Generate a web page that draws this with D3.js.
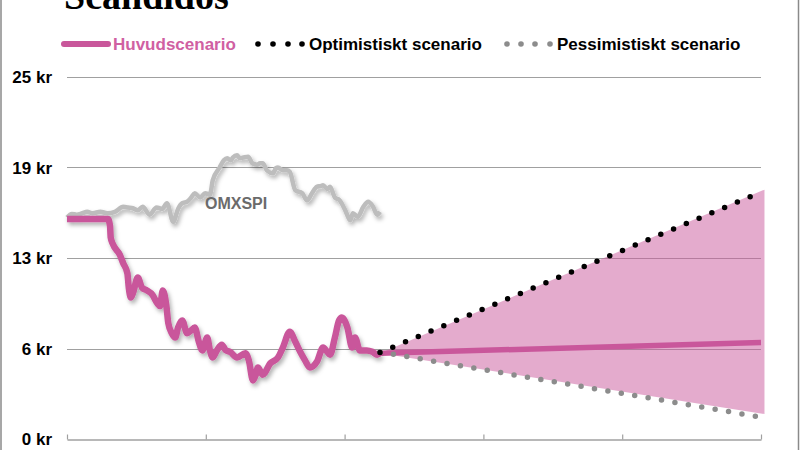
<!DOCTYPE html>
<meta charset="utf-8">
<head>
    <title>Scandidos</title>
    <script src="https://d3js.org/d3.v7.min.js"></script>
    <style>
        body { margin: 0; background: #fff; }
        text { font-family: "Liberation Sans", Arial, sans-serif; font-weight: bold; }
    </style>
</head>
<body>
<svg id="chart" width="800" height="450"></svg>
<script>
// axes
var yTicks = [0, 6.333, 12.667, 19, 25.333]
var yTickLabels = ["0 kr", "6 kr", "13 kr", "19 kr", "25 kr"]
var xTicks = [0, 20, 40, 60, 80, 100]

// Scandidos, historik
var histX = [0, 5.9, 6.2, 6.3, 6.6, 7.6, 8.1, 8.7, 8.9, 9.2, 9.5, 10.2, 10.8, 11.5, 12.3, 13.0, 13.4, 13.8, 14.3, 14.6, 15.1, 15.6, 16.0, 16.6, 17.3, 17.9, 18.4, 19.0, 19.5, 20.2, 20.6, 21.0, 21.6, 22.3, 22.9, 23.5, 24.5, 25.7, 26.2, 26.8, 27.2, 27.5, 28.2, 29.3, 30.4, 31.1, 32.1, 32.9, 33.6, 34.3, 35.0, 36.0, 36.9, 37.5, 37.9, 38.6, 39.2, 39.6, 40.1, 40.4, 41.1, 41.5, 42.2, 43.2, 44.0, 44.7, 45.1]
var histY = [15.4, 15.4, 14.9, 14.1, 13.65, 12.9, 12.3, 11.6, 10.6, 9.9, 10.2, 11.3, 10.6, 10.4, 10.1, 9.5, 9.3, 10.4, 9.4, 8.1, 7.4, 7.1, 7.8, 8.3, 7.4, 7.6, 7.8, 6.8, 6.2, 7.1, 6.2, 5.7, 6.2, 6.6, 6.2, 6.1, 5.7, 6.0, 5.5, 4.1, 4.5, 5.0, 4.5, 5.3, 5.7, 6.4, 7.5, 6.8, 6.1, 5.5, 5.0, 5.4, 6.4, 6.1, 5.9, 7.1, 8.3, 8.5, 8.2, 7.8, 6.4, 7.1, 6.2, 6.2, 6.1, 5.9, 6.0]

// OMXSPI
var omxX = [0, 0.7, 1.4, 2.2, 2.9, 3.7, 4.8, 5.8, 6.9, 8.1, 8.8, 9.5, 10.2, 10.9, 11.9, 12.9, 13.7, 14.4, 15.3, 16.0, 16.6, 17.3, 17.9, 18.4, 19.2, 19.9, 20.6, 21.0, 22.0, 22.6, 23.1, 23.6, 23.9, 24.5, 24.9, 25.4, 26.1, 26.7, 27.4, 27.8, 28.2, 28.8, 29.7, 30.1, 30.4, 31.1, 31.7, 32.1, 32.9, 33.9, 34.6, 35.3, 36.0, 36.5, 36.9, 37.5, 37.9, 38.6, 39.3, 40.1, 40.8, 41.2, 41.9, 42.7, 43.4, 44.1, 44.7, 45.1]
var omxY = [15.5, 15.75, 15.7, 15.8, 15.9, 15.8, 15.9, 15.8, 15.9, 16.25, 16.2, 16.15, 16.0, 16.25, 15.7, 16.2, 16.1, 16.5, 15.2, 16.1, 16.5, 16.6, 16.9, 17.2, 16.9, 17.2, 17.1, 18.1, 19.0, 19.5, 19.65, 19.5, 19.7, 19.85, 19.65, 19.7, 19.75, 19.3, 19.2, 19.3, 19.3, 18.8, 18.6, 18.95, 19.0, 18.8, 18.8, 18.7, 17.4, 17.2, 16.7, 17.2, 17.65, 17.7, 17.75, 17.5, 17.65, 16.9, 16.7, 16.0, 15.3, 15.8, 15.55, 16.25, 16.6, 16.25, 15.7, 15.9]

// prognoser
var prognosX = [45.1, 100]
var huvudY = [6.0, 6.75]
var optimistY = [6.05, 17.28]
var pessimistY = [6.09, 1.53]
var bandX = [45.1, 100.5]
var bandHigh = [6.0, 17.45]
var bandLow = [6.0, 1.75]

var pink = "#c9579b"

var svg = d3.select("#chart")
var margin = {left: 67, right: 39, top: 77, bottom: 11}
var width = 800, height = 450

var x = d3.scaleLinear().domain([0, 100]).range([margin.left, width - margin.right])
var y = d3.scaleLinear().domain([0, 25.333]).range([height - margin.bottom, margin.top])

var defs = svg.append("defs")
var f = defs.append("filter").attr("id", "skugga").attr("x", "-10%").attr("y", "-10%").attr("width", "130%").attr("height", "130%")
f.append("feDropShadow").attr("dx", 2).attr("dy", 3).attr("stdDeviation", 2).attr("flood-color", "#000").attr("flood-opacity", 0.3)

// ram
svg.append("rect").attr("x", 1).attr("y", -5).attr("width", 797.5).attr("height", 470)
    .attr("fill", "none").attr("stroke", "#8a8a8a").attr("stroke-width", 1.5)

// rubrik (avklippt som i originalet)
svg.append("text").attr("x", 64).attr("y", 9)
    .style("font-family", "'Liberation Serif', 'Times New Roman', serif")
    .style("font-size", "38px").text("Scandidos")

// rutnät
var grid = svg.append("g")
grid.selectAll("line").data(yTicks.slice(1)).enter().append("line")
    .attr("x1", x(0)).attr("x2", x(100))
    .attr("y1", function(d) { return Math.round(y(d)) + 0.5 })
    .attr("y2", function(d) { return Math.round(y(d)) + 0.5 })
    .attr("stroke", "#a0a0a0").attr("stroke-width", 1.2)

// y-etiketter
svg.append("g").selectAll("text").data(yTicks).enter().append("text")
    .attr("x", 52).attr("y", function(d) { return y(d) })
    .attr("dy", "0.36em").attr("text-anchor", "end")
    .style("font-size", "17px").attr("fill", "#000")
    .text(function(d, i) { return yTickLabels[i] })

// x-axel
var xAxis = svg.append("g").attr("transform", "translate(0," + (Math.round(y(0)) + 0.5) + ")")
    .call(d3.axisTop(x).tickValues(xTicks).tickSize(5).tickSizeOuter(0).tickFormat(""))
xAxis.select(".domain").attr("stroke", "#a0a0a0").attr("stroke-width", 1.5)
xAxis.selectAll(".tick line").attr("stroke", "#a0a0a0").attr("stroke-width", 1.2)

// intervall
var band = bandX.map(function(d, i) { return {x: d, hi: bandHigh[i], lo: bandLow[i]} })
svg.append("path").datum(band)
    .attr("d", d3.area().x(function(d) { return x(d.x) }).y0(function(d) { return y(d.lo) }).y1(function(d) { return y(d.hi) }))
    .attr("fill", pink).attr("fill-opacity", 0.5)

function pts(xs, ys) { return xs.map(function(d, i) { return [d, ys[i]] }) }
var line = d3.line().x(function(d) { return x(d[0]) }).y(function(d) { return y(d[1]) })
var smooth = d3.line().x(function(d) { return x(d[0]) }).y(function(d) { return y(d[1]) }).curve(d3.curveMonotoneX)

// OMXSPI
svg.append("path").datum(pts(omxX, omxY)).attr("d", smooth)
    .attr("fill", "none").attr("stroke", "#bdbdbd").attr("stroke-width", 4.5)
    .attr("stroke-linejoin", "round").attr("filter", "url(#skugga)")
svg.append("text").attr("x", 205).attr("y", 209)
    .style("font-size", "16px").attr("fill", "#6b6b6b").text("OMXSPI")

// huvudscenario prognos
svg.append("path").datum(pts(prognosX, huvudY)).attr("d", line)
    .attr("fill", "none").attr("stroke", pink).attr("stroke-width", 5.5)

// historik
svg.append("path").datum(pts(histX, histY)).attr("d", smooth)
    .attr("fill", "none").attr("stroke", pink).attr("stroke-width", 6.5)
    .attr("stroke-linejoin", "round").attr("filter", "url(#skugga)")

// pessimistiskt
svg.append("path").datum(pts(prognosX, pessimistY)).attr("d", line)
    .attr("fill", "none").attr("stroke", "#8c8c8c").attr("stroke-width", 5.5)
    .attr("stroke-linecap", "round").attr("stroke-dasharray", "0 13.6")

// optimistiskt
svg.append("path").datum(pts(prognosX, optimistY)).attr("d", line)
    .attr("fill", "none").attr("stroke", "#000").attr("stroke-width", 5.5)
    .attr("stroke-linecap", "round").attr("stroke-dasharray", "0 13.85")

// legend
var leg = svg.append("g")
leg.append("line").attr("x1", 64).attr("x2", 108).attr("y1", 44).attr("y2", 44)
    .attr("stroke", pink).attr("stroke-width", 6).attr("stroke-linecap", "round")
leg.append("text").attr("x", 113).attr("y", 50).style("font-size", "17px").attr("fill", "#d060a2").text("Huvudscenario")

leg.selectAll(".svart").data([258, 273, 288, 302]).enter().append("circle")
    .attr("cx", function(d) { return d }).attr("cy", 44).attr("r", 2.8).attr("fill", "#000")
leg.append("text").attr("x", 309).attr("y", 50).style("font-size", "17px").attr("fill", "#000").text("Optimistiskt scenario")

leg.selectAll(".gra").data([507, 521, 535, 550]).enter().append("circle")
    .attr("cx", function(d) { return d }).attr("cy", 44).attr("r", 2.8).attr("fill", "#8c8c8c")
leg.append("text").attr("x", 557).attr("y", 50).style("font-size", "17px").attr("fill", "#000").text("Pessimistiskt scenario")
</script>
</body>
